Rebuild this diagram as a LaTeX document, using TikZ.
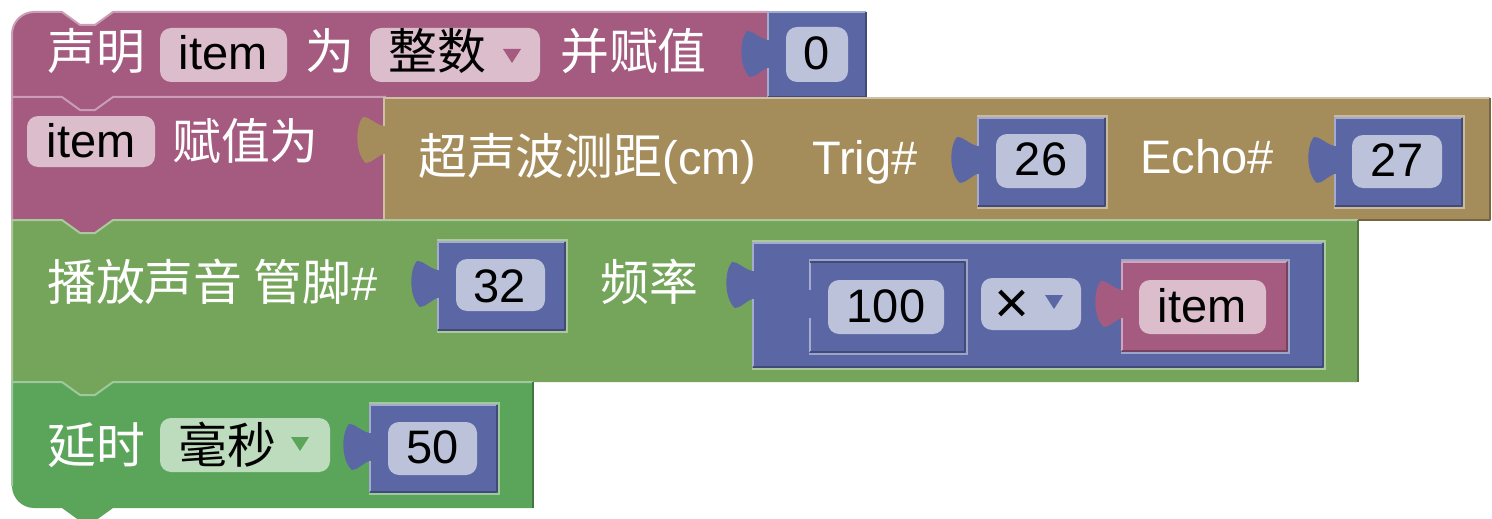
\documentclass[tikz,border=0pt]{standalone}
\usepackage{fontspec}
\setmainfont{Liberation Sans}
\newfontfamily\cjk[Scale=1.04]{Noto Sans CJK SC}
\newcommand\bigfs{\fontsize{47}{56}\selectfont}
\definecolor{pinkB}{RGB}{165,91,128}
\definecolor{blueB}{RGB}{91,103,165}
\definecolor{brownB}{RGB}{165,140,91}
\definecolor{greenA}{RGB}{116,165,91}
\definecolor{greenB}{RGB}{91,165,91}
\definecolor{pinkF}{RGB}{219,189,204}
\definecolor{blueF}{RGB}{189,194,219}
\definecolor{greenF}{RGB}{189,219,189}
% value block with left puzzle tab: L T R B colour
\newcommand\vblock[5]{%
  \fill[#5] (#1,#2) -- (#3,#2) -- (#3,#4) -- (#1,#4) -- (#1,{#2+56})
    .. controls ({#1-6},{#2+57}) and ({#1-12},{#2+65}) .. ({#1-18},{#2+65})
    .. controls ({#1-29},{#2+56}) and ({#1-29},{#2+28}) .. ({#1-21},{#2+19})
    .. controls ({#1-14},{#2+19}) and ({#1-8},{#2+27}) .. (#1,{#2+28}) -- cycle;
  \draw[edgeln,#5!55!white] (#1,{#2+28}) -- (#1,#2) -- (#3,#2);
  \draw[edgeln,#5!55!white] (#1,#4) -- (#1,{#2+56});
  \draw[edgeln,#5!72!black] (#3,#2) -- (#3,#4) -- (#1,#4);
}
% socket outline in parent's light colour: L T R B colour
\newcommand\sock[5]{%
  \draw[line width=1.5pt,#5!60!white] ({#1-1},{#2-2}) -- ({#3+2},{#2-2}) -- ({#3+2},{#4+2}) -- ({#1-1},{#4+2});
}
\newcommand\fld[5]{\fill[#5,rounded corners=11pt] (#1,#2) rectangle (#3,#4);}
\begin{document}
\begin{tikzpicture}[x=1pt,y=-1pt,
  lbl/.style={text=white,inner sep=0pt,anchor=base west,font=\bigfs},
  val/.style={text=black,inner sep=0pt,anchor=base,font=\bigfs},
  valw/.style={text=black,inner sep=0pt,anchor=base west,font=\bigfs},
  edgeln/.style={line width=2pt,line join=round}]
\useasboundingbox (0,0) rectangle (1492,519);

% ---------- block 1: declare ----------
\fill[pinkB] (12,97) -- (12,34) .. controls (12,22) and (22,12) .. (34,12)
  -- (62,12) -- (80,25) -- (95,25) -- (113,12) -- (768,12) -- (768,97)
  -- (113,97) -- (95,110) -- (80,110) -- (62,97) -- cycle;
\draw[edgeln,pinkB!60!white] (12,97) -- (12,34) .. controls (12,22) and (22,12) .. (34,12)
  -- (62,12) -- (80,25) -- (95,25) -- (113,12) -- (768,12);
\fld{160}{28}{287}{82}{pinkF}
\fld{370}{28}{540}{82}{pinkF}
\fill[pinkB] (503,49) -- (521,49) -- (512,63) -- cycle;
\node[lbl] (t1) at (47,70) {\cjk 声明};
\node[val] (t2) at (223,70) {item};
\node[lbl] (t3) at (305,70) {\cjk 为};
\node[valw] (t4) at (388,70) {\cjk 整数};
\node[lbl] (t5) at (560,70) {\cjk 并赋值};
\vblock{768}{12}{866}{97}{blueB}
\fld{786}{27}{848}{82}{blueF}
\node[val] (v0) at (817,70) {0};

% ---------- block 2: set ----------
\fill[pinkB] (12,97) -- (62,97) -- (80,110) -- (95,110) -- (113,97) -- (386,97)
  -- (386,220) -- (113,220) -- (95,233) -- (80,233) -- (62,220) -- (12,220) -- cycle;
\draw[edgeln,pinkB!60!white] (12,220) -- (12,97) -- (62,97) -- (80,110) -- (95,110) -- (113,97) -- (386,97);
\fld{27}{116}{155}{167}{pinkF}
\node[val] (s1) at (91,157) {item};
\node[lbl] (s2) at (172,159) {\cjk 赋值为};
% ultrasonic block
\vblock{384}{98}{1490}{220}{brownB}
\node[lbl] (u1) at (418,174) {{\cjk 超声波测距}(cm)};
\node[lbl] (u2) at (812,174) {Trig\#};
\node[lbl] (u3) at (1140,173) {Echo\#};
\sock{978}{118}{1105}{206}{brownB}
\vblock{978}{118}{1105}{206}{blueB}
\fld{996}{134}{1086}{188}{blueF}
\node[val] (v26) at (1041,175) {26};
\sock{1335}{118}{1462}{206}{brownB}
\vblock{1335}{118}{1462}{206}{blueB}
\fld{1352}{135}{1442}{188}{blueF}
\node[val] (v27) at (1397,176) {27};

% ---------- block 3: tone ----------
\fill[greenA] (12,220) -- (62,220) -- (80,233) -- (95,233) -- (113,220) -- (1358,220)
  -- (1358,382) -- (113,382) -- (95,395) -- (80,395) -- (62,382) -- (12,382) -- cycle;
\draw[edgeln,greenA!60!white] (12,382) -- (12,220) -- (62,220) -- (80,233) -- (95,233) -- (113,220) -- (1358,220);
\draw[edgeln,greenA!72!black] (1358,220) -- (1358,382);
\node[lbl] (p1) at (47,300) {\cjk 播放声音 管脚\rmfamily\#};
\sock{438}{242}{565}{330}{greenA}
\vblock{438}{242}{565}{330}{blueB}
\fld{456}{259}{545}{311}{blueF}
\node[val] (v32) at (500,302) {32};
\node[lbl] (p2) at (600,300) {\cjk 频率};
\sock{753}{243}{1323}{367}{greenA}
\vblock{753}{243}{1323}{367}{blueB}
\sock{810}{262}{965}{352}{blueB}
\vblock{810}{262}{965}{352}{blueB}
\draw[edgeln,blueB!72!black] (810,262) -- (965,262);
\fld{828}{280}{944}{334}{blueF}
\node[val] (v100) at (886,322) {100};
\fld{981}{278}{1081}{330}{blueF}
\node[text=black,inner sep=0pt,font=\fontsize{60}{60}\selectfont] (op) at (1012,307) {×};
\fill[blueB] (1045,295) -- (1063,295) -- (1054,309) -- cycle;
\sock{1122}{262}{1287}{351}{blueB}
\vblock{1122}{262}{1287}{351}{pinkB}
\fld{1139}{280}{1266}{334}{pinkF}
\node[val] (vitem) at (1202,322) {item};

% ---------- block 4: delay ----------
\fill[greenB] (12,382) -- (62,382) -- (80,395) -- (95,395) -- (113,382) -- (533,382)
  -- (533,508) -- (113,508) -- (95,521) -- (80,521) -- (62,508) -- (34,508)
  .. controls (22,508) and (12,498) .. (12,486) -- cycle;
\draw[edgeln,greenB!60!white] (12,486) -- (12,382) -- (62,382) -- (80,395) -- (95,395) -- (113,382) -- (533,382);
\draw[edgeln,greenB!72!black] (533,382) -- (533,508);
\node[lbl] (d1) at (47,463) {\cjk 延时};
\fld{160}{418}{330}{472}{greenF}
\node[valw] (d2) at (178,463) {\cjk 毫秒};
\fill[greenB] (291,437) -- (309,437) -- (300,451) -- cycle;
\sock{370}{405}{497}{492}{greenB}
\vblock{370}{405}{497}{492}{blueB}
\fld{388}{422}{477}{475}{blueF}
\node[val] (v50) at (433,463) {50};
\end{tikzpicture}
\end{document}
